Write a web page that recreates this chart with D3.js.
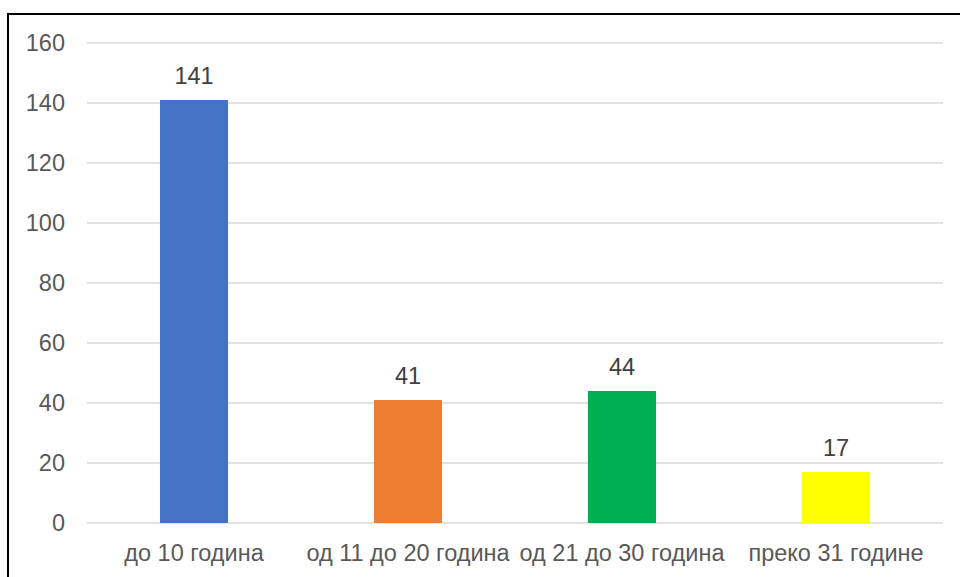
<!DOCTYPE html>
<html>
<head>
<meta charset="utf-8">
<script src="https://cdn.jsdelivr.net/npm/d3@7"></script>
<style>
  body { margin: 0; background: #fff; }
  text { font-family: "Liberation Sans", Arial, sans-serif; }
</style>
</head>
<body>
<div id="chart"></div>
<script>
const categories = ["до 10 година", "од 11 до 20 година", "од 21 до 30 година", "преко 31 године"];
const values = [141, 41, 44, 17];
const colors = ["#4472C4", "#ED7D31", "#00B050", "#FFFF00"];
const yTicks = [0, 20, 40, 60, 80, 100, 120, 140, 160];

const width = 960, height = 577;
const margin = {top: 43, right: 17, bottom: 54, left: 87};
const fontSize = "23.5px";

const svg = d3.select("#chart")
    .append("svg")
    .attr("width", width)
    .attr("height", height);

// outer frame (clipped at right and bottom, like the source)
svg.append("rect")
    .attr("x", 8)
    .attr("y", 14)
    .attr("width", 1000)
    .attr("height", 1000)
    .attr("fill", "none")
    .attr("stroke", "#000")
    .attr("stroke-width", 2);

const g = svg.append("g")
    .attr("transform", `translate(${margin.left},${margin.top})`);

const w = width - margin.left - margin.right,
    h = height - margin.top - margin.bottom;

const x = d3.scaleBand().domain(categories).range([0, w]).padding(0);
const y = d3.scaleLinear().domain([0, 160]).range([h, 0]);

// gridlines
g.selectAll(".grid")
    .data(yTicks)
    .enter().append("line")
        .attr("x1", 0)
        .attr("x2", w)
        .attr("y1", d => y(d))
        .attr("y2", d => y(d))
        .attr("stroke", "#d9d9d9")
        .attr("stroke-width", 1.5);

// y axis labels
const yAxis = g.append("g")
    .call(d3.axisLeft(y).tickValues(yTicks).tickSize(0).tickPadding(22));
yAxis.select(".domain").remove();
yAxis.selectAll("text")
    .attr("fill", "#595959")
    .style("font-size", fontSize)
    .style("font-family", "Liberation Sans, Arial, sans-serif");

// x axis labels
const xAxis = g.append("g")
    .attr("transform", `translate(0,${h})`)
    .call(d3.axisBottom(x).tickSize(0).tickPadding(21));
xAxis.select(".domain").remove();
xAxis.selectAll("text")
    .attr("fill", "#595959")
    .style("font-size", fontSize)
    .style("font-family", "Liberation Sans, Arial, sans-serif");

const barW = x.bandwidth() * 0.318;

g.selectAll(".bar")
    .data(values)
    .enter().append("rect")
        .attr("x", (d, i) => x(categories[i]) + x.bandwidth() / 2 - barW / 2)
        .attr("y", d => y(d))
        .attr("width", barW)
        .attr("height", d => h - y(d))
        .attr("fill", (d, i) => colors[i]);

g.selectAll(".val")
    .data(values)
    .enter().append("text")
        .attr("x", (d, i) => x(categories[i]) + x.bandwidth() / 2)
        .attr("y", d => y(d) - 16)
        .attr("text-anchor", "middle")
        .attr("fill", "#404040")
        .style("font-size", fontSize)
        .text(d => d);
</script>
</body>
</html>
